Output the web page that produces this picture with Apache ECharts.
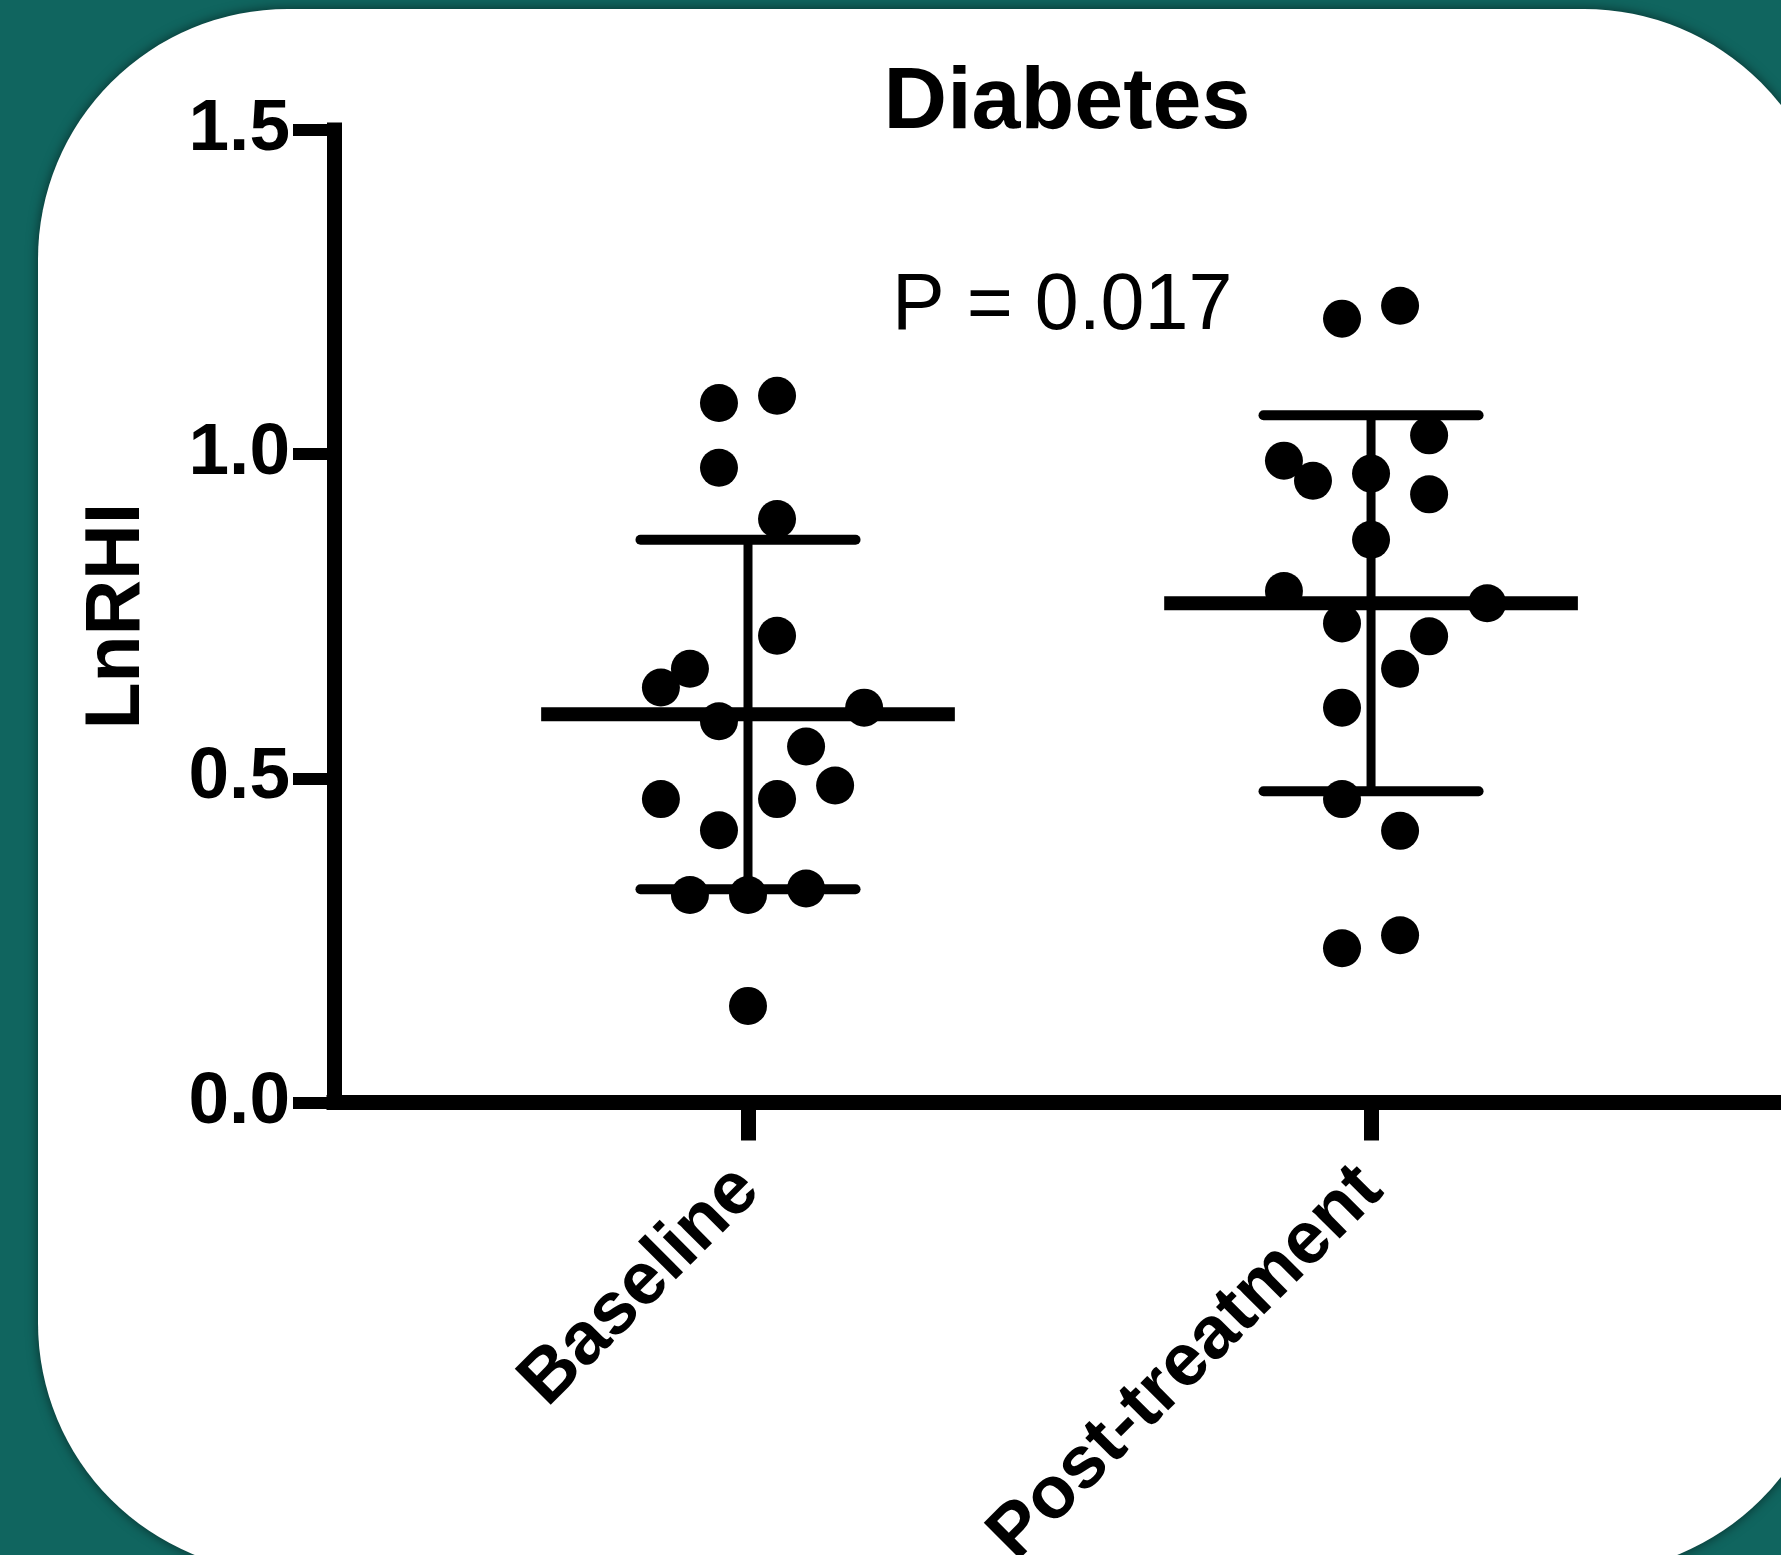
<!DOCTYPE html>
<html>
<head>
<meta charset="utf-8">
<script src="https://cdn.jsdelivr.net/npm/echarts@6/dist/echarts.min.js"></script>
<style>
  html, body { margin: 0; padding: 0; overflow: hidden; }
  #container { width: 1781px; height: 1555px; }
</style>
</head>
<body>
<div id="container"></div>
<script>
// groups on the x axis
const categories = ["Baseline", "Post-treatment"];
const yTicks = [0, 0.5, 1.0, 1.5];

// LnRHI per subject, with the horizontal jitter slot of each dot
const baselineValues = [1.079, 1.090, 0.979, 0.900, 0.720, 0.669, 0.640, 0.588, 0.609,
  0.549, 0.489, 0.468, 0.468, 0.420, 0.320, 0.320, 0.330, 0.149];
const baselineSlots = [-1, 1, -1, 1, 1, -2, -3, -1, 4, 2, 3, -3, 1, -1, -2, 0, 2, 0];

const postValues = [1.209, 1.229, 1.029, 0.990, 0.959, 0.970, 0.938, 0.868, 0.789,
  0.770, 0.739, 0.719, 0.669, 0.609, 0.468, 0.419, 0.238, 0.258];
const postSlots = [-1, 1, 2, -3, -2, 0, 2, 0, -3, 4, -1, 2, 1, -1, -1, 1, -1, 1];

// mean and mean +/- SD lines
const means = [0.599, 0.770];
const sdLow = [0.329, 0.480];
const sdHigh = [0.868, 1.060];

const pText = "P = 0.017";

const FONT = "'Liberation Sans', Arial, Helvetica, sans-serif";
const JITTER = 0.0466;      // x units per jitter slot
const MEAN_HALF = 0.332;    // half width of the mean bar in x units
const CAP_HALF = 0.1726;    // half width of the SD caps in x units

function dots(values, slots, groupX) {
  return values.map((v, i) => [groupX + slots[i] * JITTER, v]);
}

const errData = categories.map((c, i) => [i + 1, means[i], sdLow[i], sdHigh[i]]);

function renderErr(params, api) {
  const x = api.value(0);
  const m = api.value(1);
  const lo = api.value(2);
  const hi = api.value(3);
  const a = api.coord([x - MEAN_HALF, m]);
  const b = api.coord([x + MEAN_HALF, m]);
  const top = api.coord([x, hi]);
  const bot = api.coord([x, lo]);
  const capL1 = api.coord([x - CAP_HALF, hi]);
  const capR1 = api.coord([x + CAP_HALF, hi]);
  const capL2 = api.coord([x - CAP_HALF, lo]);
  const capR2 = api.coord([x + CAP_HALF, lo]);
  return {
    type: "group",
    children: [
      { type: "line", shape: { x1: top[0], y1: top[1], x2: bot[0], y2: bot[1] },
        style: { stroke: "#000", lineWidth: 9 } },
      { type: "line", shape: { x1: capL1[0], y1: capL1[1], x2: capR1[0], y2: capR1[1] },
        style: { stroke: "#000", lineWidth: 10, lineCap: "round" } },
      { type: "line", shape: { x1: capL2[0], y1: capL2[1], x2: capR2[0], y2: capR2[1] },
        style: { stroke: "#000", lineWidth: 10, lineCap: "round" } },
      { type: "line", shape: { x1: a[0], y1: a[1], x2: b[0], y2: b[1] },
        style: { stroke: "#000", lineWidth: 14 } }
    ]
  };
}

const option = {
  backgroundColor: "#10655f",
  animation: false,
  graphic: [
    {
      type: "rect",
      z: -10,
      shape: { x: 38, y: 9, width: 1796, height: 1564, r: 250 },
      style: { fill: "#fff", shadowBlur: 12, shadowColor: "rgba(0,0,0,0.55)" }
    }
  ],
  title: [
    {
      text: "Diabetes",
      left: 1062,
      top: 55,
      textAlign: "center",
      textStyle: { fontFamily: FONT, fontSize: 88, fontWeight: "bold", color: "#000" }
    },
    {
      text: pText,
      left: 887,
      top: 263,
      textStyle: { fontFamily: FONT, fontSize: 79, fontWeight: "normal", color: "#000" }
    }
  ],
  grid: {
    left: 334, top: 130, right: 0, bottom: 452.5,
    containLabel: false,
    outerBoundsMode: "none"
  },
  xAxis: {
    type: "value",
    min: 0.3355,
    max: 2.658,
    splitLine: { show: false },
    axisLine: { show: true, onZero: false, lineStyle: { color: "#000", width: 15, cap: "square" } },
    axisTick: {
      show: true,
      customValues: [1, 2],
      length: 38,
      lineStyle: { color: "#000", width: 15 }
    },
    axisLabel: {
      show: true,
      customValues: [1, 2],
      rotate: 45,
      margin: 76,
      formatter: (v) => categories[Math.round(v) - 1] || "",
      fontFamily: FONT,
      fontSize: 74,
      fontWeight: "bold",
      color: "#000"
    }
  },
  yAxis: {
    type: "value",
    min: 0,
    max: 1.5,
    interval: 0.5,
    name: "LnRHI",
    nameLocation: "middle",
    nameGap: 178,
    nameTextStyle: { fontFamily: FONT, fontSize: 77, fontWeight: "bold", color: "#000" },
    splitLine: { show: false },
    axisLine: { show: true, lineStyle: { color: "#000", width: 15, cap: "square" } },
    axisTick: { show: true, length: 41, lineStyle: { color: "#000", width: 12 } },
    axisLabel: {
      margin: 44,
      formatter: (v) => v.toFixed(1),
      fontFamily: FONT,
      fontSize: 73,
      fontWeight: "bold",
      color: "#000",
      customValues: yTicks
    }
  },
  series: [
    {
      type: "custom",
      renderItem: renderErr,
      data: errData,
      z: 3,
      silent: true
    },
    {
      name: categories[0],
      type: "scatter",
      data: dots(baselineValues, baselineSlots, 1),
      symbolSize: 38,
      itemStyle: { color: "#000", opacity: 1 },
      z: 4
    },
    {
      name: categories[1],
      type: "scatter",
      data: dots(postValues, postSlots, 2),
      symbolSize: 38,
      itemStyle: { color: "#000", opacity: 1 },
      z: 4
    }
  ]
};

const chart = echarts.init(document.getElementById("container"), null, { renderer: "canvas" });
chart.setOption(option);
</script>
</body>
</html>
